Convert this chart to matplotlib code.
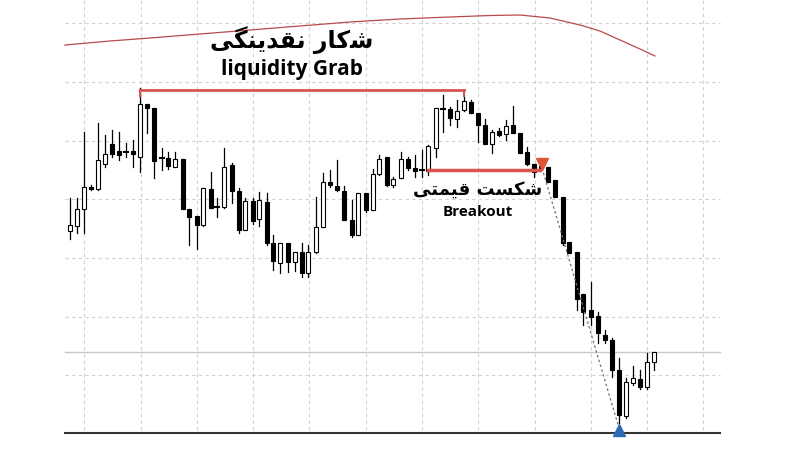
import matplotlib
matplotlib.use("Agg")
import matplotlib.pyplot as plt

# candle data (x position, open, high, low, close) in chart units (y grows downward)
xs = [70,77,84,91,98,105,112,119,126,133,140,147,154,162,168,175,183,189,197,203,211,217,224,232,239,245,253,259,267,273,280,288,295,302,308,316,323,330,337,344,352,358,366,373,379,387,393,401,408,415,422,428,436,443,450,457,464,471,478,485,492,499,506,513,520,527,534,541,548,555,563,569,577,583,591,598,605,612,619,626,633,640,647,654]
opens = [231,226,209,187,189,164,144,151,152,151,157,104,108,158,158,167,159,209,216,225,189,207,207,165,191,230,201,219,202,243,263,243,262,252,273,252,227,182,186,191,220,235,193,210,174,157,185,178,159,168,170,171,148,109,109,119,110,102,113,125,144,131,134,125,133,152,164,166,167,180,197,242,252,294,310,316,335,340,370,416,383,379,387,362]
closes = [225,209,187,189,160,154,154,155,152,154,104,108,161,158,166,159,209,217,225,188,208,207,167,191,230,201,221,200,243,261,243,262,252,273,252,227,182,185,190,220,235,193,210,174,159,185,179,159,168,171,170,146,108,109,118,111,101,113,125,144,132,135,126,133,153,164,172,168,182,197,243,253,299,312,317,333,340,370,415,382,378,387,362,352]
highs = [198,198,132,185,123,135,130,132,143,140,88,104,108,148,152,152,159,209,216,188,172,198,148,163,188,198,198,192,193,235,243,243,252,243,245,197,173,170,160,186,200,193,193,169,155,157,177,152,157,155,150,145,108,95,107,100,95,100,113,119,130,128,120,106,133,147,164,163,167,180,197,242,252,294,282,312,330,338,358,378,366,370,353,352]
lows = [239,233,233,190,190,167,157,160,157,167,172,133,178,170,169,167,209,245,249,226,208,217,208,203,233,230,224,226,245,270,273,272,271,277,277,253,227,187,191,220,237,235,212,210,175,186,187,178,170,177,177,175,157,132,125,127,111,113,142,144,153,136,140,133,153,165,177,170,182,197,245,253,310,325,325,343,343,377,423,418,385,389,389,370]

grid_x = [84,141,197,253,309,366,422,478,535,591,647,703]
grid_y = [23,82,141,199,258,317,375]

curve_x = [65,110,150,200,250,300,350,400,450,490,520,550,580,600,620,640,655]
curve_y = [45,41,38,34,30,26,22,19,17,15.5,15,18,25,31,40,49,56]

fig = plt.figure(figsize=(8,4.5), dpi=100)
ax = fig.add_axes([0,0,1,1])
ax.set_xlim(0,800); ax.set_ylim(450,0); ax.axis('off')

for gx in grid_x:
    ax.plot([gx,gx],[0,433],ls=(0,(3,3)),color='#d0d0d0',lw=0.8,zorder=0)
for gy in grid_y:
    ax.plot([65,720],[gy,gy],ls=(0,(3,3)),color='#d0d0d0',lw=0.8,zorder=0)
ax.plot([65,720],[352,352],color='#c8c8c8',lw=1,zorder=0)
ax.plot([65,720],[433,433],color='#333333',lw=1.5,zorder=1)

ax.plot(curve_x,curve_y,color='#b84a4a',lw=0.9,zorder=1)

for x,o,h,l,c in zip(xs,opens,highs,lows,closes):
    ax.plot([x,x],[h,l],color='black',lw=0.9,zorder=2)
    top,bot = min(o,c),max(o,c)
    if bot-top < 1.5:
        ax.plot([x-2.2,x+2.2],[o,o],color='black',lw=1.5,zorder=3)
    else:
        fc = 'white' if c < o else 'black'
        ax.add_patch(plt.Rectangle((x-2.2,top),4.4,bot-top,facecolor=fc,edgecolor='black',lw=0.8,zorder=3))

ax.plot([140,464],[90,90],color='#d9534f',lw=2,zorder=4)
ax.plot([140,140],[90,96],color='#d9534f',lw=1.5,zorder=4)
ax.plot([464,464],[90,96],color='#d9534f',lw=1.5,zorder=4)
ax.plot([428,540],[170,170],color='#d9534f',lw=2.5,zorder=4)
ax.plot([542,619],[168,428],ls=(0,(2,2)),color='#8a6a60',lw=0.9,zorder=4)
ax.plot([542],[164],marker='v',color='#e0533a',ms=8,zorder=5)
ax.plot([619],[430],marker='^',color='#2a6db5',ms=8,zorder=5)

t1 = '\uFBFD\uFB95\uFEE8\uFBFE\uFEAA\uFED8\uFEE7 \uFEAD\uFE8E\uFB90\uFEB7'
t2 = '\uFBFD\uFE98\uFEE4\uFBFF\uFED7 \uFE96\uFEB4\uFB91\uFEB7'
ax.text(292,40,t1,ha='center',va='center',fontsize=17,fontweight='bold',family=['DejaVu Sans'])
ax.text(292,70,'liquidity Grab',ha='center',va='center',fontsize=15,fontweight='bold',family=['Open Sans','DejaVu Sans'])
ax.text(478,190,t2,ha='center',va='center',fontsize=13,fontweight='bold',family=['DejaVu Sans'])
ax.text(478,212,'Breakout',ha='center',va='center',fontsize=11,fontweight='bold',family=['Open Sans','DejaVu Sans'])

fig.savefig('out.png',dpi=100,facecolor='white')
